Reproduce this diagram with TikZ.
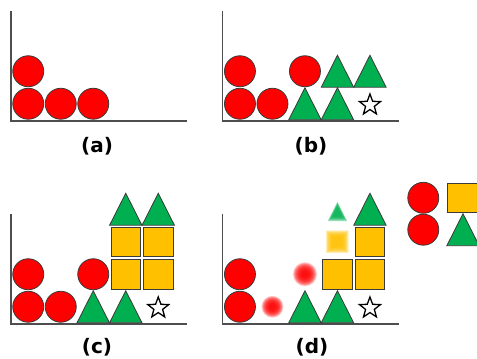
\documentclass[tikz,border=0pt]{standalone}
\usepackage{fontspec}
\setmainfont{DejaVu Sans}
\usepackage{tikz}
\usetikzlibrary{shapes.geometric}
\definecolor{PieceRed}{HTML}{FF0000}
\definecolor{PieceGreen}{HTML}{00B050}
\definecolor{PieceGold}{HTML}{FFC000}
\definecolor{Ink}{HTML}{3A3A3A}
\tikzset{
  axisline/.style={draw=Ink!90, line width=1.5pt},
  ball/.style={circle, fill=PieceRed, draw=Ink, line width=0.8pt,
    minimum size=31pt, inner sep=0pt},
  block/.style={rectangle, fill=PieceGold, draw=Ink, line width=0.8pt,
    minimum size=29.5pt, inner sep=0pt},
  goal/.style={star, star points=5, star point ratio=2.4, fill=white,
    draw=black, line width=1.3pt, minimum size=22pt, inner sep=0pt},
  panellabel/.style={font=\fontsize{20}{24}\selectfont\bfseries, inner sep=0pt},
  wedge/.pic={
    \draw[fill=PieceGreen, draw=Ink, line width=0.8pt]
      (-16.2,-16) -- (16.2,-16) -- (0,16) -- cycle;
  },
  blurball/.pic={
    \foreach \r in {11,10.5,...,3} \fill[PieceRed, opacity=0.15] (0,0) circle (\r);
  },
  blurblock/.pic={
    \foreach \r in {11.5,11,...,5} \fill[PieceGold, opacity=0.17] (-\r,-\r) rectangle (\r,\r);
  },
  blurwedge/.pic={
    \foreach \r in {10,9.5,...,5} \fill[PieceGreen, opacity=0.2] (-\r,-\r) -- (\r,-\r) -- (0,\r) -- cycle;
  }
}

\begin{document}
\begin{tikzpicture}[x=1pt, y=1pt]
  \clip (0,0) rectangle (477,359);

  % (a)
  \begin{scope}[shift={(11,238)}]
    \draw[axisline] (0,110) -- (0,0) -- (176,0);
    \node[ball] (a11) at (17.25,17.25) {};
    \node[ball] (a12) at (17.25,49.75) {};
    \node[ball] (a21) at (49.75,17.25) {};
    \node[ball] (a31) at (82.25,17.25) {};
  \end{scope}
  \node[panellabel] (la) at (97,213) {(a)};

  % (b)
  \begin{scope}[shift={(222.7,238)}]
    \draw[axisline] (0,110) -- (0,0) -- (176,0);
    \node[ball] (b11) at (17.25,17.25) {};
    \node[ball] (b12) at (17.25,49.75) {};
    \node[ball] (b21) at (49.75,17.25) {};
    \pic (b31) at (82.25,17.25) {wedge};
    \node[ball] (b32) at (82.25,49.75) {};
    \pic (b41) at (114.75,17.25) {wedge};
    \pic (b42) at (114.75,49.75) {wedge};
    \node[goal] (b51) at (147.25,16) {};
    \pic (b52) at (147.25,49.75) {wedge};
  \end{scope}
  \node[panellabel] (lb) at (311,213) {(b)};

  % (c)
  \begin{scope}[shift={(11,35)}]
    \draw[axisline] (0,110) -- (0,0) -- (176,0);
    \node[ball] (c11) at (17.25,17.25) {};
    \node[ball] (c12) at (17.25,49.75) {};
    \node[ball] (c21) at (49.75,17.25) {};
    \pic (c31) at (82.25,17.25) {wedge};
    \node[ball] (c32) at (82.25,49.75) {};
    \pic (c41) at (114.75,17.25) {wedge};
    \node[block] (c42) at (114.75,49.75) {};
    \node[block] (c43) at (114.75,82.25) {};
    \pic (c44) at (114.75,114.75) {wedge};
    \node[goal] (c51) at (147.25,16) {};
    \node[block] (c52) at (147.25,49.75) {};
    \node[block] (c53) at (147.25,82.25) {};
    \pic (c54) at (147.25,114.75) {wedge};
  \end{scope}
  \node[panellabel] (lc) at (97,12) {(c)};

  % (d)
  \begin{scope}[shift={(222.7,35)}]
    \draw[axisline] (0,110) -- (0,0) -- (176,0);
    \node[ball] (d11) at (17.25,17.25) {};
    \node[ball] (d12) at (17.25,49.75) {};
    \pic (d21) at (49.75,17.25) {blurball};
    \pic (d31) at (82.25,17.25) {wedge};
    \pic[scale=1.1] (d32) at (82.25,49.75) {blurball};
    \pic (d41) at (114.75,17.25) {wedge};
    \node[block] (d42) at (114.75,49.75) {};
    \pic (d43) at (114.75,82.25) {blurblock};
    \pic (d44) at (114.75,112.5) {blurwedge};
    \node[goal] (d51) at (147.25,16) {};
    \node[block] (d52) at (147.25,49.75) {};
    \node[block] (d53) at (147.25,82.25) {};
    \pic (d54) at (147.25,114.75) {wedge};
  \end{scope}
  \node[panellabel] (ld) at (312,12) {(d)};

  % pieces at the side
  \node[ball] (s1) at (423.3,161.2) {};
  \node[ball] (s2) at (423.3,129.3) {};
  \node[block] (s3) at (462.5,161) {};
  \pic (s4) at (463,129.3) {wedge};
\end{tikzpicture}
\end{document}
